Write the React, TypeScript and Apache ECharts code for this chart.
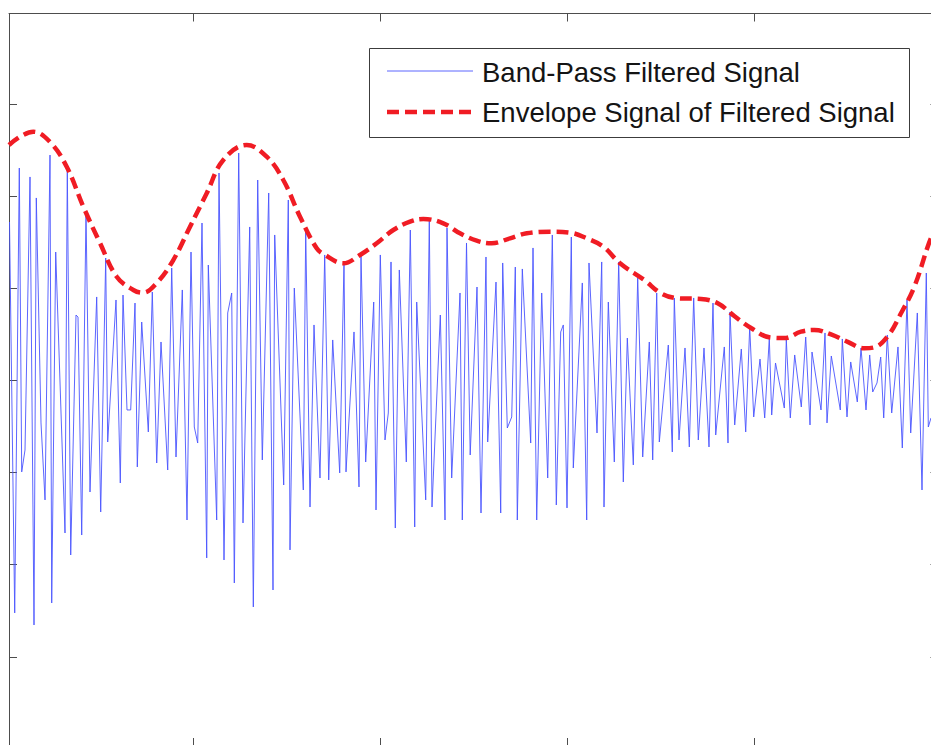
import React, { useEffect, useRef } from "react";
import * as echarts from "echarts";

// Band-pass filtered signal: extrema (time in s, amplitude in V)
const signalTime = [
  0.0171, 0.0449, 0.0695, 0.0824, 0.1, 0.1267, 0.1481, 0.1604, 0.1856, 0.207,
  0.2337, 0.2428, 0.2642, 0.3139, 0.3262, 0.3444, 0.3727, 0.3834, 0.4032, 0.4262,
  0.4476, 0.4834, 0.5048, 0.5316, 0.5422, 0.5866, 0.6096, 0.6241, 0.6455, 0.6652,
  0.6882, 0.7005, 0.7241, 0.7594, 0.7807, 0.8043, 0.8273, 0.8631, 0.8845, 0.9075,
  0.9412, 0.9663, 0.9877, 1.0053, 1.0235, 1.0465, 1.0717, 1.0802, 1.1251, 1.1374,
  1.1642, 1.184, 1.2053, 1.2193, 1.2428, 1.2658, 1.3016, 1.3209, 1.3444, 1.369,
  1.4032, 1.4262, 1.4353, 1.4834, 1.508, 1.5171, 1.5401, 1.5882, 1.6011, 1.6241,
  1.6455, 1.6775, 1.7027, 1.7241, 1.7455, 1.7829, 1.8059, 1.8166, 1.8594, 1.8861,
  1.8968, 1.9219, 1.9647, 1.977, 2.0, 2.0251, 2.0428, 2.0572, 2.0802, 2.1016,
  2.139, 2.1604, 2.184, 2.1947, 2.2428, 2.262, 2.2765, 2.3209, 2.346, 2.3567,
  2.3818, 2.4262, 2.4385, 2.461, 2.4807, 2.5171, 2.5385, 2.5652, 2.5743, 2.6187,
  2.6439, 2.6545, 2.6791, 2.7027, 2.7219, 2.7326, 2.7594, 2.8043, 2.8166, 2.8364,
  2.8631, 2.8952, 2.9198, 2.9412, 2.9647, 2.9786, 2.9984, 3.0214, 3.0321, 3.0802,
  3.1037, 3.116, 3.1588, 3.184, 3.1963, 3.2193, 3.2513, 3.2749, 3.2995, 3.3209,
  3.3529, 3.3765, 3.4032, 3.4385, 3.4567, 3.4781, 3.492, 3.5401, 3.5615, 3.5722,
  3.5973, 3.6294, 3.6524, 3.6759, 3.7005, 3.731, 3.7578, 3.7791, 3.7936, 3.8396,
  3.8594, 3.8701, 3.8952, 3.9305, 3.954, 3.9754, 3.9968, 4.0305, 4.0556, 4.0802,
  4.093, 4.1134, 4.1604, 4.1711, 4.1925, 4.216, 4.2513, 4.2749, 4.2979, 4.3086,
  4.3567, 4.3781, 4.3888, 4.4118, 4.4599, 4.4706, 4.4957, 4.5155, 4.5508, 4.5706,
  4.5973, 4.6171, 4.6332, 4.6561, 4.6759, 4.692, 4.7112, 4.7348, 4.7684, 4.7914,
  4.8166, 4.8364, 4.8717, 4.8968, 4.9198, 4.9305, 4.9449,
];
const signalAmp = [
  1.721, -2.524, 2.307, -0.993, -0.755, 2.21, -2.655, 1.982, -0.461, -1.297,
  2.448, -2.416, 1.395, -1.656, 2.307, -1.895, 0.711, 0.689, -1.678, 1.83,
  -1.211, 0.907, -1.428, 1.33, -0.668, 0.874, -1.113, 0.928, -0.32, -0.32,
  0.841, -0.939, 0.635, -0.559, 0.961, -0.896, 0.418, -0.972, 1.221, -0.831,
  0.983, -1.515, 1.395, -0.505, -0.679, 1.71, -1.927, 1.254, -1.515, 2.253,
  -1.949, 0.733, 0.95, -2.199, 2.47, -1.547, 1.667, -2.459, 2.177, -0.863,
  2.036, -2.275, 1.58, -1.135, 1.96, -1.84, 1.004, -1.189, 1.634, -1.374,
  0.603, -1.059, 1.363, -1.08, 0.44, -1.004, 1.287, -0.993, 0.527, -1.156,
  1.363, -0.885, 0.852, -1.406, 1.363, -0.646, -0.353, 1.287, -1.602, 1.2,
  -0.885, 1.634, -1.591, 0.852, -1.297, 1.743, -1.374, 0.711, -1.515, 1.656,
  -1.059, 0.95, -1.515, 1.493, -0.809, 1.015, -1.439, 1.341, -0.668, 1.069,
  -1.439, 1.276, -0.516, -0.396, 1.232, -1.515, 1.211, -0.679, 1.439, -1.515,
  0.95, -1.059, 1.58, -1.352, 0.527, 0.603, -1.384, 1.558, -0.95, 1.059,
  -1.515, 1.276, -0.57, 1.287, -1.374, 0.852, -0.885, 1.287, -1.102, 0.461,
  -0.917, 1.113, -0.831, 0.418, -0.863, 0.95, -0.668, 0.385, -0.776, 0.896,
  -0.646, 0.353, -0.722, 0.896, -0.646, 0.353, -0.722, 0.841, -0.592, 0.364,
  -0.679, 0.744, -0.483, 0.342, -0.559, 0.581, -0.396, 0.233, -0.407, 0.461,
  -0.375, 0.19, -0.299, 0.44, -0.407, 0.277, -0.288, 0.472, -0.483, 0.309,
  -0.32, 0.516, -0.461, 0.266, -0.32, 0.451, -0.396, 0.201, -0.233, 0.353,
  -0.32, 0.277, -0.125, -0.027, 0.255, -0.407, 0.494, -0.353, 0.364, -0.733,
  0.874, -0.57, 0.733, -1.189, 1.167, -0.505, -0.407,
];

// Envelope of the filtered signal
const envelopeTime = [
  0.0144, 0.1444, 0.2337, 0.323, 0.4118, 0.5011, 0.5904, 0.6791, 0.7294, 0.8043,
  0.893, 0.9824, 1.0717, 1.1604, 1.2856, 1.3925, 1.4813, 1.5706, 1.6599, 1.7043,
  1.8021, 1.8914, 1.9807, 2.0695, 2.1588, 2.2299, 2.3369, 2.4262, 2.5155, 2.5957,
  2.6936, 2.7829, 2.9075, 3.0144, 3.1037, 3.1925, 3.2818, 3.4118, 3.5011, 3.5904,
  3.715, 3.8043, 3.893, 3.9824, 4.0893, 4.1604, 4.2497, 4.3209, 4.4102, 4.4995,
  4.5882, 4.6417, 4.7134, 4.7845, 4.8556, 4.9273, 4.9449,
];
const envelopeAmp = [
  2.557, 2.701, 2.59, 2.321, 1.887, 1.493, 1.127, 0.983, 0.953, 1.059,
  1.308, 1.67, 2.033, 2.394, 2.557, 2.43, 2.177, 1.778, 1.435, 1.363,
  1.273, 1.363, 1.49, 1.634, 1.724, 1.754, 1.707, 1.598, 1.518, 1.49,
  1.544, 1.598, 1.616, 1.605, 1.544, 1.453, 1.273, 1.091, 0.947, 0.893,
  0.885, 0.838, 0.7, 0.57, 0.465, 0.46, 0.53, 0.548, 0.5, 0.42,
  0.35, 0.36, 0.48, 0.73, 1.018, 1.453, 1.547,
];

const xTicks = [1, 2, 3, 4];
const yTicks = [-3, -2, -1, 0, 1, 2, 3];
const xRange = [0.0144, 4.985];
const yRange = [-3.969, 3.985];

const legendNames = ["Band-Pass Filtered Signal", "Envelope Signal of Filtered Signal"];

export default function App() {
  const ref = useRef<HTMLDivElement>(null);

  useEffect(() => {
    if (!ref.current) return;
    const chart = echarts.init(ref.current, undefined, { renderer: "svg" });
    const axisColor = "#4d4d4d";
    const mkX = (pos: "top" | "bottom") => ({
      type: "value",
      position: pos,
      min: xRange[0],
      max: xRange[1],
      axisLine: { show: true, onZero: false, lineStyle: { color: axisColor, width: 1 } },
      axisTick: { show: true, inside: true, length: 8, customValues: xTicks, lineStyle: { color: axisColor } },
      axisLabel: { show: false },
      splitLine: { show: false },
    });
    const mkY = (pos: "left" | "right") => ({
      type: "value",
      position: pos,
      min: yRange[0],
      max: yRange[1],
      axisLine: { show: true, onZero: false, lineStyle: { color: axisColor, width: 1 } },
      axisTick: { show: true, inside: true, length: 8, customValues: yTicks, lineStyle: { color: axisColor } },
      axisLabel: { show: false },
      splitLine: { show: false },
    });
    const font = "'Liberation Sans', Arial, Helvetica, sans-serif";
    chart.setOption({
      animation: false,
      backgroundColor: "#ffffff",
      grid: { left: 9, top: 13.5, width: 929.5, height: 732.5, containLabel: false },
      xAxis: [mkX("bottom"), mkX("top")],
      yAxis: [mkY("left"), mkY("right")],
      series: [
        {
          name: legendNames[0],
          type: "line",
          xAxisIndex: 0,
          yAxisIndex: 0,
          data: signalTime.map((t, i) => [t, signalAmp[i]]),
          symbol: "none",
          lineStyle: { color: "#4a55ff", width: 0.9 },
          z: 2,
        },
        {
          name: legendNames[1],
          type: "line",
          xAxisIndex: 0,
          yAxisIndex: 0,
          data: envelopeTime.map((t, i) => [t, envelopeAmp[i]]),
          symbol: "none",
          smooth: 0.4,
          lineStyle: { color: "#f01c24", width: 4.5, type: [12, 6], cap: "butt" },
          z: 3,
        },
      ],
      graphic: [
        {
          type: "group",
          z: 100,
          children: [
            {
              type: "rect",
              shape: { x: 369.5, y: 48.5, width: 540, height: 89 },
              style: { fill: "#ffffff", stroke: "#3c3c3c", lineWidth: 1 },
            },
            {
              type: "line",
              shape: { x1: 387, y1: 71, x2: 473, y2: 71 },
              style: { stroke: "#4a55ff", lineWidth: 0.9 },
            },
            {
              type: "line",
              shape: { x1: 387, y1: 112, x2: 473, y2: 112 },
              style: { stroke: "#f01c24", lineWidth: 4.5, lineDash: [12, 6] },
            },
            {
              type: "text",
              x: 482,
              y: 72,
              style: {
                text: legendNames[0],
                font: `27.5px ${font}`,
                fill: "#141414",
                verticalAlign: "middle",
              },
            },
            {
              type: "text",
              x: 482,
              y: 112.5,
              style: {
                text: legendNames[1],
                font: `27.5px ${font}`,
                fill: "#141414",
                verticalAlign: "middle",
              },
            },
          ],
        },
      ],
    });
    return () => chart.dispose();
  }, []);

  return (
    <div style={{ position: "fixed", left: 0, top: 0, width: 931, height: 745, overflow: "hidden", background: "#fff" }}>
      <div ref={ref} style={{ width: 960, height: 780 }} />
    </div>
  );
}
